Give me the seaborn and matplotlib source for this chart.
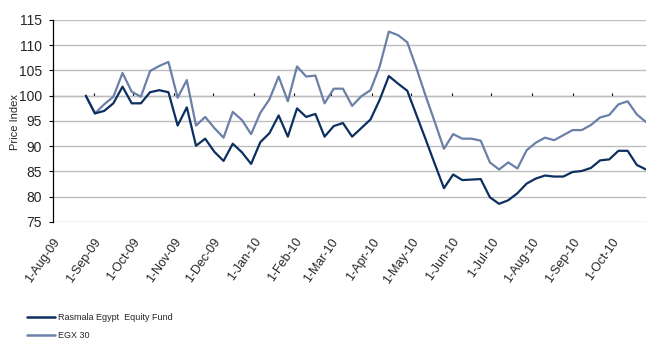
import matplotlib
matplotlib.use("Agg")
import matplotlib.pyplot as plt
import pandas as pd
import seaborn as sns
from matplotlib.lines import Line2D
from matplotlib.ticker import NullFormatter

# Weekly index levels, rebased to 100
start_date = "2009-08-26"
rasmala = [100.0, 96.5, 97.0, 98.5, 101.8, 98.5, 98.5, 100.7, 101.1, 100.7,
           94.1, 97.7, 90.1, 91.5, 88.9, 87.1, 90.5, 88.8, 86.5, 90.8,
           92.6, 96.1, 91.9, 97.5, 95.8, 96.4, 91.9, 94.0, 94.6, 91.9,
           93.6, 95.3, 99.2, 103.9, 102.4, 101.0, 96.2, 91.4, 86.5, 81.7,
           84.4, 83.3, 83.4, 83.5, 79.9, 78.6, 79.3, 80.7, 82.6, 83.6,
           84.2, 84.0, 84.0, 84.9, 85.1, 85.7, 87.2, 87.4, 89.1, 89.1,
           86.3, 85.4]
egx30 = [100.0, 96.5, 98.3, 99.8, 104.5, 100.8, 99.8, 104.9, 105.9, 106.7,
         99.6, 103.1, 94.1, 95.8, 93.6, 91.7, 96.8, 95.2, 92.4, 96.6,
         99.3, 103.8, 98.9, 105.8, 103.8, 104.0, 98.5, 101.4, 101.4, 98.0,
         99.9, 101.1, 105.8, 112.7, 112.0, 110.6, 105.5, 100.0, 94.8, 89.5,
         92.4, 91.5, 91.5, 91.1, 86.8, 85.4, 86.8, 85.6, 89.2, 90.7,
         91.7, 91.2, 92.2, 93.2, 93.2, 94.2, 95.7, 96.2, 98.3, 98.9,
         96.3, 94.8]
series_names = ["Rasmala Egypt  Equity Fund", "EGX 30"]
series_colors = ["#0c2f5f", "#6a80a8"]
month_ticks = pd.date_range("2009-08-01", "2010-10-01", freq="MS")
month_labels = [f"{d.day}-{d:%b}-{d:%y}" for d in month_ticks]
y_ticks = [75, 80, 85, 90, 95, 100, 105, 110, 115]
base_level = 100

dates = pd.date_range(start_date, periods=len(rasmala), freq="7D")
df = pd.DataFrame({"Date": dates, series_names[0]: rasmala, series_names[1]: egx30})
long_df = df.melt(id_vars="Date", var_name="Series", value_name="Price Index")

sns.set_style("white")
plt.rcParams["font.family"] = ["Liberation Sans", "DejaVu Sans"]
narrow = ["Liberation Sans Narrow", "Liberation Sans", "DejaVu Sans"]

fig = plt.figure(figsize=(6.46, 3.38), dpi=100)
ax = fig.add_axes([53 / 646, 1 - 222 / 338, 593 / 646, 202 / 338])

palette = dict(zip(series_names, series_colors))
sns.lineplot(data=long_df, x="Date", y="Price Index", hue="Series",
             hue_order=series_names[::-1], palette=palette, linewidth=1.6,
             legend=False, ax=ax, zorder=3)

ax.set_ylim(y_ticks[0], y_ticks[-1])
ax.set_xlim(month_ticks[0], dates[-1])
ax.set_yticks(y_ticks)
ax.set_xticks(month_ticks)
ax.set_xticklabels(month_labels, rotation=55, ha="right", va="top",
                   rotation_mode="anchor", fontsize=9)
ax.tick_params(axis="x", length=0, pad=10)
ax.tick_params(axis="y", labelsize=10, length=3, width=0.8, direction="out",
               left=True, pad=5, color="black")

ax.grid(axis="y", color="#bdbdbd", linewidth=1.0)
ax.grid(axis="x", visible=False)
for side in ("top", "right", "bottom"):
    ax.spines[side].set_visible(False)
ax.spines["left"].set_color("black")
ax.spines["left"].set_linewidth(0.9)

ax.set_xlabel("")
ax.set_ylabel("Price Index", fontsize=8, family=narrow)
ax.yaxis.set_label_coords(-0.056, 0.495)

# Horizontal axis crossing at the base level, with month ticks only
frac = (base_level - y_ticks[0]) / (y_ticks[-1] - y_ticks[0])
sec = ax.secondary_xaxis(frac)
sec.set_xticks(month_ticks)
sec.xaxis.set_major_formatter(NullFormatter())
sec.tick_params(axis="x", labelbottom=False, labeltop=False, length=2.5,
                width=0.8, direction="out", color="black")
sec.spines["bottom"].set_color("black")
sec.spines["bottom"].set_linewidth(1.6)

handles = [Line2D([], [], color=c, linewidth=1.8) for c in series_colors]
fig.legend(handles, series_names, loc="upper left",
           bbox_to_anchor=(27 / 646, 1 - 313 / 338), frameon=False,
           prop={"family": narrow, "size": 6.5}, handlelength=3.1,
           handletextpad=0.3, borderpad=0, labelspacing=1.0,
           borderaxespad=0)

fig.savefig("out.png", dpi=100)
